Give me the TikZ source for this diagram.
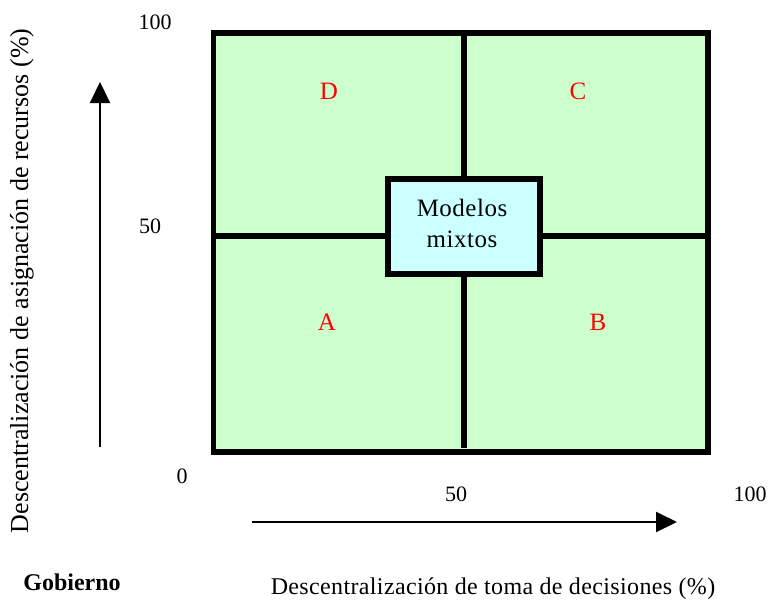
\documentclass[tikz,border=0pt]{standalone}
\usepackage{fontspec}
\setmainfont{Liberation Serif}
\usetikzlibrary{arrows.meta}
\definecolor{quadgreen}{HTML}{CCFFCC}
\definecolor{boxcyan}{HTML}{CCFFFF}
\begin{document}
\begin{tikzpicture}[x=1pt,y=-1pt,
  txt/.style={font=\fontsize{22}{26}\selectfont, inner sep=0pt},
  big/.style={font=\fontsize{24}{28}\selectfont\addfontfeature{LetterSpace=1.5}, inner sep=0pt},
  quad/.style={font=\fontsize{25}{28}\selectfont, inner sep=0pt, text=red},
  frameline/.style={line width=5.5pt},
  axis/.style={line width=2pt, -{Triangle[width=20pt,length=21pt]}}
  ]
\useasboundingbox (0,0) rectangle (770,600);
% frame
\draw[frameline, fill=quadgreen] (213.5,33) rectangle (708,452);
% center box
\node[draw, line width=6pt, fill=boxcyan, minimum width=152pt, minimum height=95pt,
      inner sep=0pt] (mix) at (464,226.5) {};
\node[inner sep=0pt, align=center, font=\fontsize{25}{31}\selectfont\addfontfeature{LetterSpace=2}]
      (mixtxt) at (462,223) {Modelos\\mixtos};
% dividers
\coordinate (dtop) at (464,33);
\coordinate (dbot) at (464,448);
\coordinate (dleft) at (213.5,236);
\coordinate (dright) at (708,236);
\draw[frameline] (dtop) -- (mix.north);
\draw[frameline] (mix.south) -- (dbot);
\draw[frameline] (dleft) -- (mix.west |- dleft);
\draw[frameline] (mix.east |- dright) -- (dright);
% quadrant letters
\node[quad] (qD) at (329,91) {D};
\node[quad] (qC) at (578,91) {C};
\node[quad] (qA) at (327,322) {A};
\node[quad] (qB) at (598,322) {B};
% tick labels
\node[txt] (y100) at (155,22) {100};
\node[txt] (y50) at (150,226) {50};
\node[txt] (zero) at (182,476) {0};
\node[txt] (x50) at (456,494) {50};
\node[txt] (x100) at (750,494) {100};
% axes arrows
\coordinate (ya) at (100,447);
\coordinate (yb) at (100,82);
\coordinate (xa) at (252,522);
\coordinate (xb) at (677,522);
\draw[axis] (ya) -- (yb);
\draw[axis] (xa) -- (xb);
% axis titles
\node[inner sep=0pt, font=\fontsize{26}{30}\selectfont, rotate=90] (ytitle) at (22,281) {Descentralización de asignación de recursos (\%)};
\node[big] (xtitle) at (493,589) {Descentralización de toma de decisiones (\%)};
\node[inner sep=0pt, font=\fontsize{24}{28}\selectfont\bfseries] (gob) at (72,582) {Gobierno};
\end{tikzpicture}
\end{document}
